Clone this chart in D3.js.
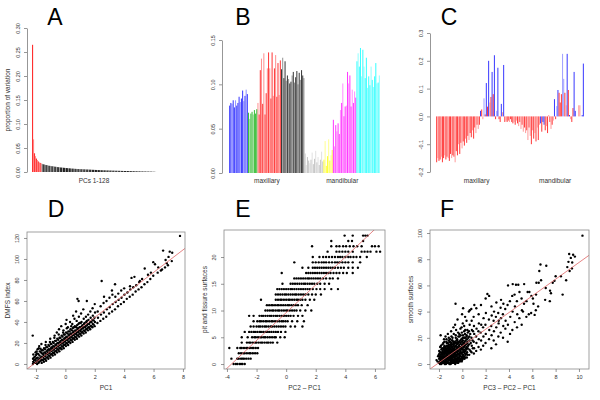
<!DOCTYPE html>
<html>
<head>
<meta charset="utf-8">
<script src="https://cdn.jsdelivr.net/npm/d3@7"></script>
<style>
  body { margin: 0; background: #fff; }
  svg { display: block; font-family: "Liberation Sans", Arial, sans-serif; }
</style>
</head>
<body>
<div id="fig"></div>
<script>
// ---- A: proportion of variation, PCs 1-128
const aValues = [0.265,0.068,0.039,0.033,0.028,0.025,0.022,0.020,0.019,0.018,
  0.017,0.016,0.0155,0.015,0.0145,0.014,0.0135,0.013,0.0127,0.0124,
  0.012,0.0117,0.0114,0.0111,0.0108,0.0105,0.0102,0.0099,0.0096,0.0094,
  0.0092,0.009,0.0088,0.0086,0.0084,0.0082,0.008,0.0078,0.0076,0.0074,
  0.0072,0.007,0.0069,0.0067,0.0066,0.0064,0.0063,0.0062,0.006,0.0059,
  0.0058,0.0057,0.0056,0.0055,0.0054,0.0053,0.0052,0.0051,0.005,0.0049,
  0.0048,0.0047,0.0046,0.0045,0.0044,0.0043,0.0042,0.0041,0.004,0.0039,
  0.0038,0.0037,0.0036,0.0035,0.0035,0.0034,0.0033,0.0032,0.0032,0.0031,
  0.003,0.003,0.0029,0.0028,0.0028,0.0027,0.0026,0.0026,0.0025,0.0025,
  0.0024,0.0023,0.0023,0.0022,0.0022,0.0021,0.0021,0.002,0.002,0.0019,
  0.0019,0.0018,0.0018,0.0017,0.0017,0.0016,0.0016,0.0015,0.0015,0.0014,
  0.0014,0.0013,0.0013,0.0012,0.0012,0.0011,0.0011,0.001,0.001,0.0009,
  0.0009,0.0008,0.0008,0.0007,0.0006,0.0005,0.0004,0.0003];
const aTicks = [0, 0.05, 0.10, 0.15, 0.20, 0.25, 0.30];

// ---- B: loadings of PC1 by tooth surface group
const bGroupColors = ["#3c3cff","#3cbf3c","#ff3c3c","#3c3c3c","#c8c8c8","#ffff3c","#ff3cff","#3cffff"];
const bGroupSizes = [16, 8, 20, 20, 16, 8, 20, 20];
const bValues = [
  0.076,0.079,0.078,0.082,0.074,0.082,0.076,0.079,0.086,0.080,0.084,0.093,0.081,0.087,0.094,0.089,
  0.068,0.061,0.067,0.069,0.066,0.071,0.067,0.072,
  0.079,0.066,0.116,0.129,0.078,0.135,0.066,0.090,0.118,0.136,0.118,0.084,0.136,0.087,0.118,0.133,0.086,0.124,0.088,0.127,
  0.117,0.130,0.107,0.126,0.104,0.110,0.106,0.101,0.103,0.110,0.114,0.102,0.108,0.115,0.100,0.113,0.105,0.116,0.110,0.107,
  0.022,0.009,0.018,0.014,0.011,0.015,0.023,0.010,0.016,0.025,0.012,0.018,0.009,0.015,0.024,0.013,
  0.015,0.036,0.008,0.019,0.038,0.014,0.020,0.026,
  0.060,0.030,0.054,0.047,0.056,0.044,0.071,0.079,0.101,0.064,0.075,0.076,0.114,0.101,0.110,0.075,0.094,0.079,0.092,0.085,
  0.126,0.135,0.120,0.141,0.109,0.139,0.120,0.107,0.130,0.096,0.109,0.099,0.120,0.105,0.097,0.109,0.124,0.101,0.102,0.110];
const bShade = ["1101101110110101","10110111","01101011010110101101","10110101101011010110",
  "1011010110101101","10110101","10101101011010110101","10110101101101011010"].join("");
const bTicks = [0, 0.05, 0.10, 0.15];
const jawLabels = ["maxillary", "mandibular"];

// ---- C: loadings of PC2
const cValues = [
  -0.165,-0.150,-0.160,-0.155,-0.145,-0.165,-0.150,-0.140,-0.155,-0.145,-0.150,-0.160,-0.135,-0.150,-0.140,-0.145,-0.165,-0.125,
  -0.140,-0.100,-0.135,-0.095,-0.115,-0.090,-0.105,-0.080,-0.095,-0.070,-0.085,-0.060,-0.075,-0.050,-0.080,-0.040,-0.060,-0.030,
  -0.045,-0.03,0.02,0.025,-0.01,0.065,0.007,0.12,0.035,0.2,0.05,0.07,0.16,0.08,0.22,-0.01,0.02,0.175,-0.01,-0.02,
  0.045,0.015,0.185,-0.02,-0.015,-0.02,-0.015,-0.02,-0.01,-0.02,
  -0.025,-0.02,-0.03,-0.015,-0.025,-0.035,-0.02,-0.045,-0.03,-0.055,-0.04,-0.06,-0.05,-0.085,-0.04,-0.07,-0.1,-0.05,
  -0.08,-0.06,-0.09,-0.04,-0.085,-0.03,-0.025,-0.055,-0.02,-0.03,-0.05,-0.035,-0.06,0.005,-0.02,-0.045,-0.03,-0.015,
  0.062,-0.01,0.037,0.095,0.085,0.05,0.08,0.225,0.135,0.085,0.04,0.225,0.095,0.005,-0.01,-0.02,0.03,0.16,0.02,0.0,
  0.0,0.04,0.04,0.0,0.005,0.19];
const cCodes = "rRrrRrrRrrRrrRrrRrrRrrRrrRrrRrrRrrRr" + "RrbrRBrbrbRrbrbrBbrrbRbrRrrRrr" +
  "rRrRrRrRrRrRrRrRrRrRrRrRbrbbrRrRrRrR" + "brBbrrrBBrRbrbRrrbbRRRRRbb";
const cTicks = [-0.2, -0.1, 0.0, 0.1, 0.2, 0.3];

// ---- D: DMFS index vs PC1
const dPoints = [
  [-2.21,0],[-2.19,2],[-2.2,5],[-2.18,9],[-2.22,27],
  [-2.06,1],[-2.04,4],[-2.07,7],[-2.03,11],
  [-1.92,0],[-1.9,3],[-1.88,6],[-1.93,10],[-1.89,14],
  [-1.77,2],[-1.74,5],[-1.76,8],[-1.73,12],[-1.78,17],
  [-1.61,1],[-1.59,4],[-1.62,7],[-1.58,10],[-1.6,13],[-1.63,19],
  [-1.46,2],[-1.44,5],[-1.47,8],[-1.43,11],[-1.45,15],
  [-1.31,3],[-1.29,6],[-1.32,9],[-1.28,12],[-1.3,16],[-1.33,21],
  [-1.16,5],[-1.14,8],[-1.17,11],[-1.13,14],[-1.15,18],
  [-1.01,6],[-0.99,9],[-1.02,12],[-0.98,15],[-1.0,19],[-1.03,24],
  [-0.86,8],[-0.84,11],[-0.87,14],[-0.83,17],[-0.85,21],
  [-0.71,9],[-0.69,12],[-0.72,15],[-0.68,18],[-0.7,22],[-0.73,27],
  [-0.56,11],[-0.54,14],[-0.57,17],[-0.53,20],[-0.55,24],[-0.58,30],
  [-0.41,12],[-0.39,15],[-0.42,18],[-0.38,21],[-0.4,25],[-0.43,33],
  [-0.26,14],[-0.24,17],[-0.27,20],[-0.23,23],[-0.25,27],[-0.28,36],
  [-0.11,15],[-0.09,18],[-0.12,21],[-0.08,24],[-0.1,28],[-0.13,32],
  [0.04,17],[0.06,20],[0.03,23],[0.07,26],[0.05,30],[0.02,38],[0.08,42],
  [0.19,18],[0.21,21],[0.18,24],[0.22,27],[0.2,31],[0.17,35],
  [0.34,20],[0.36,23],[0.33,26],[0.37,29],[0.35,33],[0.32,40],
  [0.49,21],[0.51,24],[0.48,27],[0.52,30],[0.5,34],[0.47,38],[0.53,46],
  [0.64,23],[0.66,26],[0.63,29],[0.67,32],[0.65,36],[0.62,43],
  [0.79,24],[0.81,27],[0.78,30],[0.82,33],[0.8,37],[0.77,41],[0.73,50],[0.82,62],
  [0.94,26],[0.96,29],[0.93,32],[0.97,35],[0.95,39],[0.92,45],[0.9,60],
  [1.09,27],[1.11,30],[1.08,33],[1.12,36],[1.1,40],[1.07,48],
  [1.24,29],[1.26,32],[1.23,35],[1.27,38],[1.25,43],[1.22,52],
  [1.39,30],[1.41,33],[1.38,36],[1.42,40],[1.4,45],[1.46,60],
  [1.54,32],[1.56,35],[1.53,38],[1.57,42],[1.55,47],
  [1.69,33],[1.71,36],[1.68,40],[1.72,44],[1.7,50],
  [1.84,35],[1.86,38],[1.83,42],[1.87,46],[1.85,53],
  [1.99,36],[2.01,40],[1.98,44],[2.02,49],[2.0,57],
  [-2.13,1],[-2.12,3.5],[-2.14,6],[-1.98,2],[-1.97,5.5],[-1.99,8.5],[-1.96,12],
  [-1.83,1],[-1.82,4],[-1.84,9.5],[-1.81,15],[-1.67,3],[-1.68,6],[-1.66,11],[-1.69,14.5],
  [-1.52,3.5],[-1.53,6.5],[-1.51,9.5],[-1.54,13],[-1.37,4.5],[-1.38,7.5],[-1.36,10.5],[-1.39,14],[-1.35,18],
  [-1.22,6.5],[-1.23,9.5],[-1.21,13],[-1.24,16],[-1.07,7.5],[-1.08,10.5],[-1.06,13.5],[-1.09,17],[-1.05,21],
  [-0.92,9.5],[-0.93,12.5],[-0.91,16],[-0.94,19],[-0.77,10.5],[-0.78,13.5],[-0.76,16.5],[-0.79,20],[-0.75,25],
  [-0.62,12.5],[-0.63,15.5],[-0.61,19],[-0.64,22],[-0.47,13.5],[-0.48,16.5],[-0.46,20],[-0.49,23],[-0.45,28],
  [-0.32,15.5],[-0.33,18.5],[-0.31,22],[-0.34,25],[-0.17,16.5],[-0.18,19.5],[-0.16,22.5],[-0.19,26],[-0.15,30],
  [-0.02,18.5],[-0.03,21.5],[-0.01,25],[-0.04,28],[0.12,19.5],[0.13,22.5],[0.11,25.5],[0.14,29],[0.1,34],
  [0.27,21.5],[0.28,24.5],[0.26,28],[0.29,31],[0.42,22.5],[0.43,25.5],[0.41,28.5],[0.44,32],[0.4,36],
  [0.57,24.5],[0.58,27.5],[0.56,31],[0.59,35],[0.72,25.5],[0.73,28.5],[0.71,31.5],[0.74,35],
  [0.87,27.5],[0.88,30.5],[0.86,34],[0.89,38],[1.02,28.5],[1.03,31.5],[1.01,35],[1.04,39],
  [1.17,30.5],[1.18,34],[1.16,37],[1.32,31.5],[1.33,35],[1.31,39],[1.47,33.5],[1.48,37],[1.46,41],
  [1.62,34.5],[1.63,38],[1.77,36],[1.78,40],[1.92,37.5],[1.93,41.5],
  [2.18,39],[2.22,44],[2.2,50],[2.38,41],[2.42,47],[2.4,55],[2.47,79],
  [2.58,43],[2.62,49],[2.6,58],[2.63,64],[2.78,45],[2.82,52],[2.8,60],
  [2.98,48],[3.02,54],[3.0,63],[3.18,50],[3.22,57],[3.2,66],[3.17,70],[3.38,76],
  [3.38,52],[3.42,59],[3.4,64],[3.58,55],[3.62,61],[3.6,67],[3.78,57],[3.82,63],[3.8,70],
  [3.98,59],[4.02,66],[4.0,72],[4.18,62],[4.22,68],[4.38,64],[4.42,71],[4.4,74],[4.5,82],
  [4.58,66],[4.62,73],[4.7,83],[4.78,69],[4.82,75],[4.98,71],[5.02,78],[5.07,79],
  [5.18,73],[5.22,81],[5.38,76],[5.4,91],[5.58,78],[5.62,85],[5.78,81],[5.82,87],
  [5.98,84],[5.98,97],[6.1,95],[6.28,87],[6.32,92],[6.5,89],[6.58,90],[6.65,108],
  [6.78,92],[6.82,99],[6.9,96],[6.98,94],[7.02,102],[7.1,107],[7.27,106],[7.24,98],[7.8,122]];
const dFit = [23, 10.7];

// ---- E: pit and fissure surfaces vs PC2 - PC1 (one row per count)
const eRows = [
  [0, [-3.55,-3.4,-3.3,-3.15,-3.05,-2.95,-2.8]],
  [1, [-3.7,-3.3,-3.2,-3.05,-2.95,-2.85,-2.7,-2.55,-2.4]],
  [2, [-3.2,-3.05,-2.9,-2.8,-2.65,-2.5,-2.4,-2.25,-2.1,-1.95]],
  [3, [-3.84,-3.3,-3.1,-3.0,-2.85,-2.7,-2.6,-2.45,-2.3,-2.2,-2.05,-1.9]],
  [4, [-3.0,-2.65,-2.5,-2.4,-2.25,-2.1,-2.0,-1.85,-1.7,-1.6,-1.45,-1.3,-1.2,-1.05,-0.9,-0.6]],
  [5, [-3.0,-2.6,-2.3,-2.15,-2.05,-1.9,-1.75,-1.65,-1.5,-1.4,-1.25,-1.1,-0.95,-0.8,-0.7,-0.4,-0.1]],
  [6, [-2.8,-2.5,-2.35,-2.2,-2.1,-1.95,-1.8,-1.7,-1.55,-1.4,-1.3,-1.15,-1.0,-0.85,-0.7,-0.55,-0.35,-0.05]],
  [7, [-2.4,-2.2,-2.0,-1.85,-1.75,-1.6,-1.45,-1.35,-1.2,-1.05,-0.95,-0.8,-0.65,-0.5,-0.35,-0.2,-0.05,0.3,0.6,1.1]],
  [8, [-2.2,-1.95,-1.8,-1.7,-1.55,-1.4,-1.3,-1.15,-1.0,-0.9,-0.75,-0.6,-0.45,-0.3,-0.2,-0.05,0.1,0.4,0.75,1.2]],
  [9, [-2.5,-2.2,-1.8,-1.65,-1.55,-1.4,-1.25,-1.1,-1.0,-0.85,-0.7,-0.6,-0.45,-0.3,-0.15,0.0,0.15,0.3,0.5,0.8,1.1]],
  [10, [-1.4,-1.25,-1.1,-0.95,-0.85,-0.7,-0.55,-0.45,-0.3,-0.15,0.0,0.1,0.25,0.4,0.55,0.7,0.95,1.3,1.7]],
  [11, [-1.3,-1.15,-1.0,-0.9,-0.75,-0.6,-0.5,-0.35,-0.2,-0.05,0.1,0.2,0.35,0.5,0.65,0.8,1.05,1.45]],
  [12, [-1.7,-0.7,-0.55,-0.4,-0.3,-0.15,0.0,0.15,0.25,0.4,0.55,0.7,0.8,0.95,1.1,1.3,1.6,1.9]],
  [13, [-0.7,-0.55,-0.4,-0.25,-0.1,0.0,0.15,0.3,0.45,0.6,0.7,0.85,1.0,1.15,1.3,1.5,1.75,2.0,2.35]],
  [14, [-0.6,-0.45,-0.3,-0.15,0.0,0.15,0.3,0.4,0.55,0.7,0.85,1.0,1.15,1.3,1.45,1.6,1.8,2.05,2.3,2.6,3.05,3.5]],
  [15, [-0.25,0.3,0.45,0.6,0.75,0.9,1.05,1.2,1.3,1.45,1.6,1.75,1.9,2.1,2.3,2.6,2.9]],
  [16, [0.55,0.7,0.85,1.0,1.15,1.3,1.45,1.55,1.7,1.85,2.0,2.15,2.3,2.5,2.7,2.95,3.15,3.5]],
  [17, [-0.3,1.35,1.5,1.65,1.8,1.95,2.1,2.25,2.4,2.55,2.7,2.85,3.0,3.2,3.4,3.6,3.85,4.1,4.5]],
  [18, [1.1,1.5,1.8,1.95,2.1,2.25,2.4,2.55,2.7,2.85,3.0,3.15,3.3,3.5,3.7,3.9,4.2,4.5,4.85]],
  [19, [0.55,1.8,2.0,2.2,2.4,2.55,2.7,2.9,3.1,3.3,3.45,3.6,3.8,4.0,4.2,4.5,5.0]],
  [20, [1.8,2.25,2.5,2.7,2.9,3.1,3.3,3.5,3.65,3.8,4.0,4.2,4.35,4.55,4.75,5.0,5.45]],
  [21, [2.8,3.4,3.6,3.8,4.0,4.2,4.5,5.1,5.3,5.5,5.7,6.1,6.35]],
  [22, [1.75,3.05,3.4,3.6,3.85,4.05,4.3,4.55,4.8,5.1,5.8,6.0,6.25]],
  [23, [3.05,4.2,4.45,5.2]],
  [24, [3.95,4.5,5.2,5.35,5.5]]];
const eFit = [9.6, 2.6];

// ---- F: smooth surfaces vs PC3 - PC2 - PC1
const fPoints = [
  [-2.21,3],[-2.12,2],[-2.08,6],
  [-2.01,1],[-1.99,4],[-2.02,7],[-1.98,10],
  [-1.91,0],[-1.89,3],[-1.92,6],[-1.88,9],[-1.9,13],
  [-1.81,0],[-1.79,2],[-1.82,5],[-1.78,8],[-1.8,11],[-1.83,14],[-1.86,22],
  [-1.71,1],[-1.69,4],[-1.72,7],[-1.68,10],[-1.7,15],
  [-1.61,1],[-1.59,3],[-1.62,6],[-1.58,9],[-1.6,12],[-1.63,16],[-1.57,19],
  [-1.51,0],[-1.49,2],[-1.52,5],[-1.48,8],[-1.5,11],[-1.53,14],
  [-1.41,0],[-1.39,2],[-1.42,4],[-1.38,7],[-1.4,10],[-1.43,13],[-1.37,17],[-1.44,21],
  [-1.31,1],[-1.29,4],[-1.32,6],[-1.28,9],[-1.3,12],[-1.33,16],
  [-1.21,1],[-1.19,3],[-1.22,5],[-1.18,8],[-1.2,11],[-1.23,14],[-1.17,18],[-1.24,23],
  [-1.11,0],[-1.09,3],[-1.12,5],[-1.08,7],[-1.1,10],[-1.13,13],[-1.07,17],
  [-1.01,0],[-0.99,2],[-1.02,4],[-0.98,6],[-1.0,9],[-1.03,12],[-0.97,15],[-1.04,19],[-0.96,25],
  [-0.91,1],[-0.89,4],[-0.92,6],[-0.88,8],[-0.9,11],[-0.93,14],[-0.87,18],
  [-0.81,1],[-0.79,3],[-0.82,5],[-0.78,7],[-0.8,10],[-0.83,13],[-0.77,16],[-0.84,20],[-0.76,28],
  [-0.71,2],[-0.69,5],[-0.72,7],[-0.68,9],[-0.7,12],[-0.73,15],
  [-0.61,0],[-0.59,2],[-0.62,4],[-0.58,6],[-0.6,8],[-0.63,11],[-0.57,14],[-0.64,17],[-0.56,22],[-0.62,30],[-0.58,46],
  [-0.51,3],[-0.49,6],[-0.52,9],[-0.48,12],[-0.5,18],
  [-0.41,1],[-0.39,3],[-0.42,5],[-0.38,8],[-0.4,10],[-0.43,13],[-0.37,16],[-0.44,19],[-0.36,24],[-0.41,34],
  [-0.31,2],[-0.29,5],[-0.32,10],[-0.28,14],
  [-0.21,2],[-0.19,4],[-0.22,7],[-0.18,9],[-0.2,12],[-0.23,15],[-0.17,18],[-0.24,21],[-0.16,27],
  [-0.11,4],[-0.09,8],[-0.12,13],[-0.08,19],
  [-0.01,3],[0.01,6],[-0.02,9],[0.02,12],[0.0,14],[-0.03,17],[0.03,20],[-0.04,24],[0.04,31],[-0.02,38],[0.07,42.6],
  [0.09,5],[0.11,10],[0.08,16],
  [0.19,4],[0.21,8],[0.18,11],[0.22,14],[0.2,17],[0.17,20],[0.23,23],[0.16,29],[0.24,36],
  [0.29,7],[0.31,12],[0.28,18],
  [0.39,5],[0.41,9],[0.38,13],[0.42,16],[0.4,19],[0.37,22],[0.43,26],[0.36,33],
  [0.59,7],[0.61,11],[0.58,15],[0.62,18],[0.6,21],[0.57,25],[0.63,30],[0.56,40],[0.64,41],
  [-1.95,1.5],[-1.94,5],[-1.96,8],[-1.85,1],[-1.84,4],[-1.86,7],[-1.75,0.5],[-1.74,3],[-1.76,6],[-1.73,9],[-1.74,12],
  [-1.65,2],[-1.64,5],[-1.66,8],[-1.63,11],[-1.55,1],[-1.54,4],[-1.56,7],[-1.53,10],[-1.55,13],[-1.54,17],
  [-1.45,1],[-1.44,3],[-1.46,6],[-1.43,9],[-1.45,12],[-1.35,0.5],[-1.34,3],[-1.36,5],[-1.33,8],[-1.35,11],[-1.34,14],[-1.36,19],
  [-1.25,2],[-1.24,4],[-1.26,7],[-1.23,10],[-1.25,13],[-1.24,16],[-1.15,1],[-1.14,4],[-1.16,6],[-1.13,9],[-1.15,12],[-1.14,15],[-1.16,20],
  [-1.05,1],[-1.04,3],[-1.06,5],[-1.03,8],[-1.05,11],[-1.04,14],[-1.06,17],[-0.95,0.5],[-0.94,3],[-0.96,5],[-0.93,7],[-0.95,10],[-0.94,13],[-0.96,16],[-0.93,21],
  [-0.85,2],[-0.84,4],[-0.86,6],[-0.83,9],[-0.85,12],[-0.84,15],[-0.86,18],[-0.75,1],[-0.74,3],[-0.76,6],[-0.73,8],[-0.75,11],[-0.74,14],[-0.76,17],[-0.73,23],
  [-0.65,1],[-0.64,3],[-0.66,5],[-0.63,7],[-0.65,10],[-0.64,13],[-0.66,16],[-0.55,1],[-0.54,4],[-0.56,7],[-0.53,10],[-0.55,14],[-0.54,16],[-0.56,20],[-0.53,26],
  [-0.45,2],[-0.44,4],[-0.46,7],[-0.43,9],[-0.45,11],[-0.44,15],[-0.46,18],[-0.35,1],[-0.34,4],[-0.36,7],[-0.33,12],[-0.35,17],[-0.34,21],
  [-0.25,3],[-0.24,6],[-0.26,8],[-0.23,11],[-0.25,13],[-0.24,17],[-0.26,23],[-0.15,3],[-0.14,6],[-0.16,10],[-0.13,12],[-0.15,16],[-0.14,22],
  [-0.05,2],[-0.04,5],[-0.06,8],[-0.03,11],[-0.05,15],[-0.04,19],[-0.06,28],[0.05,4],[0.06,7],[0.04,11],[0.07,15],[0.05,18],[0.06,22],
  [0.15,6],[0.16,9],[0.14,13],[0.17,16],[0.15,20],[0.16,25],[0.25,5],[0.26,10],[0.24,15],[0.27,20],[0.25,26],
  [0.35,8],[0.36,11],[0.34,15],[0.37,21],[0.45,7],[0.46,12],[0.44,17],[0.47,24],[0.5,14],[0.52,20],
  [0.7,10],[0.72,16],[0.68,23],[0.9,12],[0.88,18],[0.92,25],
  [0.79,9],[0.81,14],[0.78,20],[0.82,26],[0.8,33],[0.77,42],
  [0.99,8],[1.01,12],[0.98,17],[1.02,23],[1.0,29],[0.97,36],[1.03,45],
  [1.19,10],[1.21,16],[1.18,21],[1.22,27],[1.2,42.6],
  [1.39,13],[1.41,19],[1.38,25],[1.42,31],[1.4,38],
  [1.59,11],[1.61,18],[1.58,24],[1.62,30],[1.6,45],
  [1.79,14],[1.81,21],[1.78,28],[1.82,35],
  [1.99,16],[2.01,23],[1.98,30],[2.02,39],[2.0,50],[2.15,53.5],
  [2.29,19],[2.31,26],[2.28,34],[2.3,52],
  [2.49,12],[2.51,22],[2.48,29],[2.52,37],[2.5,44],
  [2.69,18],[2.71,25],[2.68,33],[2.72,40],
  [2.89,15],[2.91,28],[2.88,36],[2.92,47],
  [3.09,21],[3.11,31],[3.08,39],[3.12,33],
  [3.29,24],[3.31,35],[3.28,43],[3.32,49],
  [3.49,20],[3.51,29],[3.48,38],[3.52,46],
  [3.69,27],[3.71,33],[3.68,42],
  [3.89,17],[3.91,30],[3.88,45],[3.92,60],
  [4.09,23],[4.11,36],[4.08,48],
  [4.29,26],[4.31,40],[4.28,52],[4.32,61],
  [4.49,32],[4.51,44],[4.48,53],[4.6,60.5],
  [4.69,28],[4.71,38],[4.68,48],[4.8,60.5],
  [4.89,35],[4.9,55],[5.09,30],[5.11,41],[5.08,50],[5.2,40],
  [5.3,61],[5.29,46],[5.5,48],[5.49,36],[5.6,55],[5.7,38],[5.75,55],
  [5.9,39],[5.92,52],[6.05,50],[6.1,46],[6.2,37.5],[6.3,41],[6.32,53],[6.35,62],
  [6.55,62],[6.5,44],[6.6,71],[6.7,76],[6.75,64],[7.1,49],[7.15,58],[7.2,75],
  [7.5,48],[7.52,56],[7.6,54],[7.75,62],[7.9,63.5],[8.0,67],[8.45,67],[8.6,53],[8.9,64],
  [9.0,74],[9.1,78],[9.16,84],[9.2,71],[9.3,81],[9.4,73],[9.42,77.5],[9.5,83.4],[9.65,82],[10.3,98]];
const fFit = [13.8, 6.37];

const w = 600, h = 400;
const svg = d3.select("#fig").append("svg")
  .attr("width", w).attr("height", h)
  .style("background-color", "#fff");

const axisColor = "#6a6a6a";
const textColor = "#333";

function letter(x, y, t) {
  svg.append("text").attr("x", x).attr("y", y).attr("text-anchor", "middle")
    .attr("font-size", 23).attr("fill", "#000").text(t);
}

function label(x, y, t, rot) {
  const s = svg.append("text").attr("text-anchor", "middle")
    .attr("font-size", 6.5).attr("fill", textColor).text(t);
  if (rot) s.attr("transform", `translate(${x},${y}) rotate(-90)`);
  else s.attr("x", x).attr("y", y);
}

// R style left axis with labels turned parallel to the axis
function leftAxis(yScale, ticks, fmt, x, off, keepLine) {
  const ax = svg.append("g").attr("transform", `translate(${x},0)`)
    .call(d3.axisLeft(yScale).tickValues(ticks).tickFormat(fmt).tickSize(3).tickSizeOuter(0));
  if (!keepLine) ax.select(".domain").remove();
  ax.selectAll("path,line").attr("stroke", axisColor).attr("stroke-width", 0.7);
  ax.selectAll("text")
    .attr("x", 0).attr("dy", null).attr("y", -off)
    .attr("transform", "rotate(-90)").attr("text-anchor", "middle")
    .attr("font-size", 5.5).attr("fill", textColor);
  return ax;
}

function bottomAxis(xScale, ticks, y) {
  const ax = svg.append("g").attr("transform", `translate(0,${y})`)
    .call(d3.axisBottom(xScale).tickValues(ticks).tickFormat(d => String(d)).tickSize(3).tickSizeOuter(0));
  ax.select(".domain").remove();
  ax.selectAll("line").attr("stroke", axisColor).attr("stroke-width", 0.7);
  ax.selectAll("text").attr("y", 6.5).attr("font-size", 5.5).attr("fill", textColor);
}

// ---------- panel A ----------
{
  const x = d3.scaleBand().domain(d3.range(aValues.length)).range([32, 156]).padding(0);
  const y = d3.scaleLinear().domain([0, 0.30]).range([172, 28]);
  svg.append("g").selectAll("rect").data(aValues).join("rect")
    .attr("x", (d, i) => x(i)).attr("width", x.bandwidth() + 0.15)
    .attr("y", d => y(d)).attr("height", d => y(0) - y(d))
    .attr("fill", (d, i) => i < 10 ? (i % 2 ? "#ff8a8a" : "#ff3030") : (i % 3 === 1 ? "#9a9a9a" : "#202020"));
  leftAxis(y, aTicks, d => d.toFixed(2), 27, 6.8, true);
  label(94, 183, "PCs 1-128");
  label(9.5, 100, "proportion of variation", true);
  letter(55, 25, "A");
}

// ---------- panel B ----------
{
  const x = d3.scaleBand().domain(d3.range(bValues.length)).range([229, 380]).padding(0.12);
  const y = d3.scaleLinear().domain([0, 0.15]).range([173, 40]);
  const groupOf = [];
  bGroupSizes.forEach((n, g) => { for (let k = 0; k < n; k++) groupOf.push(g); });
  svg.append("g").selectAll("rect").data(bValues).join("rect")
    .attr("x", (d, i) => x(i)).attr("width", x.bandwidth())
    .attr("y", d => y(d)).attr("height", d => y(0) - y(d))
    .attr("fill", (d, i) => bGroupColors[groupOf[i]])
    .attr("fill-opacity", (d, i) => bShade[i] === "0" ? 0.55 : 1);
  leftAxis(y, bTicks, d => d.toFixed(2), 222, 6.8, true);
  label(x(32), 183, jawLabels[0]);
  label(x(96), 183, jawLabels[1]);
  letter(243, 25, "B");
}

// ---------- panel C ----------
{
  const colorFor = { r: "#ff3c3c", R: "#ff9c9c", b: "#3c3cff", B: "#a0a0ff" };
  const x = d3.scaleBand().domain(d3.range(cValues.length)).range([436, 584]).padding(0.12);
  const y = d3.scaleLinear().domain([-0.2, 0.3]).range([172, 33]);
  svg.append("g").selectAll("rect").data(cValues).join("rect")
    .attr("x", (d, i) => x(i)).attr("width", x.bandwidth())
    .attr("y", d => Math.min(y(d), y(0))).attr("height", d => Math.abs(y(d) - y(0)))
    .attr("fill", (d, i) => colorFor[cCodes[i]] || colorFor.r);
  leftAxis(y, cTicks, d => d.toFixed(1), 430, 6.8, true);
  label(x(35), 183, jawLabels[0]);
  label(x(103), 183, jawLabels[1]);
  letter(449, 25, "C");
}

// ---------- scatter panels ----------
function scatterPanel(p) {
  const x = d3.scaleLinear().domain(p.xDom).range([p.left, p.right]);
  const y = d3.scaleLinear().domain(p.yDom).range([p.bottom, p.top]);
  const clipId = "clip" + p.name;
  svg.append("clipPath").attr("id", clipId).append("rect")
    .attr("x", p.left).attr("y", p.top).attr("width", p.right - p.left).attr("height", p.bottom - p.top);

  svg.append("g").selectAll("circle").data(p.points).join("circle")
    .attr("cx", d => x(d[0])).attr("cy", d => y(d[1])).attr("r", 1.2).attr("fill", "#000");

  svg.append("line").attr("clip-path", `url(#${clipId})`)
    .attr("x1", x(p.xDom[0])).attr("y1", y(p.fit[0] + p.fit[1] * p.xDom[0]))
    .attr("x2", x(p.xDom[1])).attr("y2", y(p.fit[0] + p.fit[1] * p.xDom[1]))
    .attr("stroke", "#e06464").attr("stroke-width", 0.8);

  svg.append("rect").attr("x", p.left).attr("y", p.top)
    .attr("width", p.right - p.left).attr("height", p.bottom - p.top)
    .attr("fill", "none").attr("stroke", "#8a8a8a").attr("stroke-width", 0.8);

  bottomAxis(x, p.xTicks, p.bottom);
  leftAxis(y, p.yTicks, d => String(d), p.left, 8.5, false);
  label((p.left + p.right) / 2, 389.5, p.xLabel);
  label(p.left - 17.5, (p.top + p.bottom) / 2, p.yLabel, true);
  letter(p.letterX, 217, p.name);
}

scatterPanel({
  name: "D", points: dPoints, fit: dFit,
  xDom: [-2.61, 8.14], yDom: [-4.8, 125.7], left: 27, right: 185, top: 232, bottom: 369,
  xTicks: [-2, 0, 2, 4, 6, 8], yTicks: [0, 20, 40, 60, 80, 100, 120],
  xLabel: "PC1", yLabel: "DMFS index", letterX: 56
});

scatterPanel({
  name: "E", points: eRows.flatMap(([v, xs]) => xs.map(xv => [xv, v])), fit: eFit,
  xDom: [-4.2, 6.68], yDom: [-0.93, 25.05], left: 224, right: 385, top: 230, bottom: 369,
  xTicks: [-4, -2, 0, 2, 4, 6], yTicks: [0, 5, 10, 15, 20],
  xLabel: "PC2 \u2013 PC1", yLabel: "pit and fissure surfaces", letterX: 243
});

scatterPanel({
  name: "F", points: fPoints, fit: fFit,
  xDom: [-2.77, 10.86], yDom: [-3.8, 102.3], left: 430, right: 589, top: 230, bottom: 369,
  xTicks: [-2, 0, 2, 4, 6, 8, 10], yTicks: [0, 20, 40, 60, 80, 100],
  xLabel: "PC3 \u2013 PC2 \u2013 PC1", yLabel: "smooth surfaces", letterX: 447
});
</script>
</body>
</html>
